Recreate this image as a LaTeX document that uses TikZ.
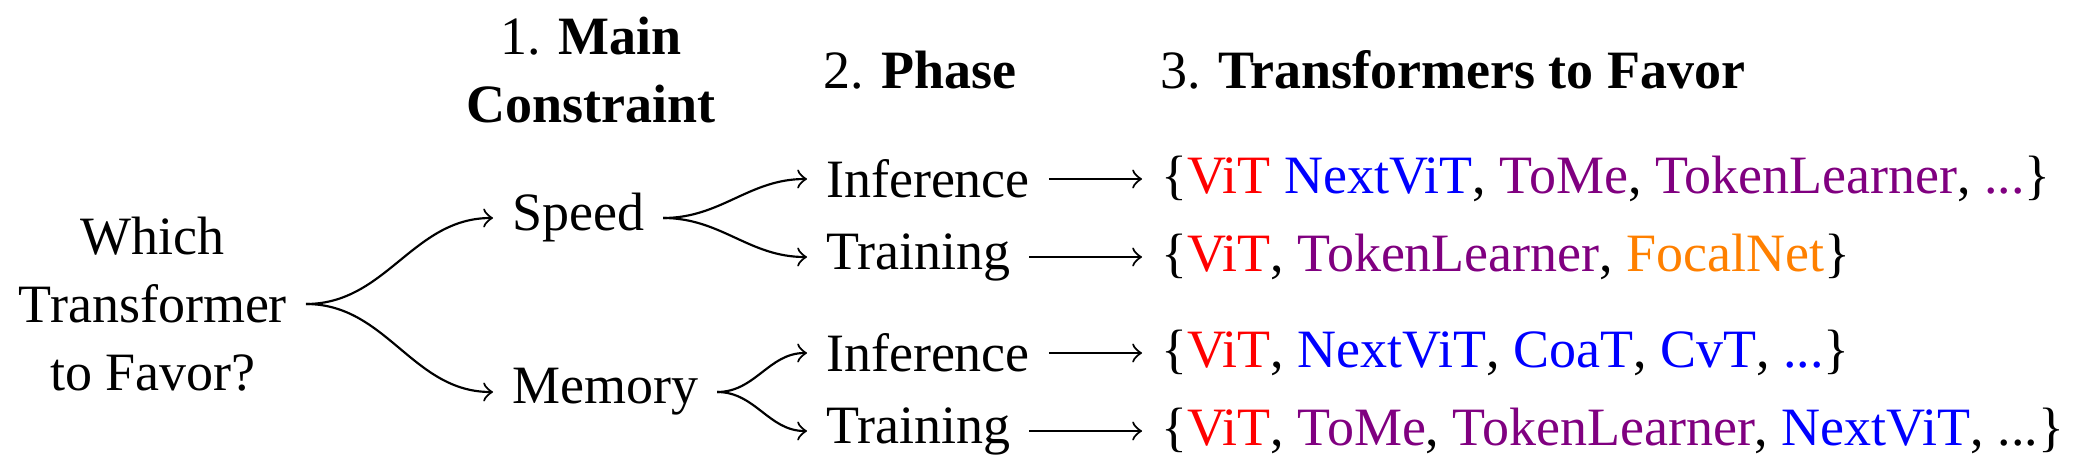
\documentclass[tikz,border=0pt]{standalone}
\usepackage{fontspec}
\setmainfont{Liberation Serif}
\definecolor{cred}{RGB}{255,0,0}
\definecolor{cblue}{RGB}{0,0,255}
\definecolor{cpurple}{RGB}{128,0,128}
\definecolor{corange}{RGB}{255,128,0}
\newcommand{\colR}[1]{\textcolor{cred}{#1}}
\newcommand{\colB}[1]{\textcolor{cblue}{#1}}
\newcommand{\colP}[1]{\textcolor{cpurple}{#1}}
\newcommand{\colO}[1]{\textcolor{corange}{#1}}
\tikzset{
  txt/.style={font=\fontsize{10}{12.6}\selectfont, inner sep=3.33pt},
  branch/.style={->, line width=0.4pt},
  lead/.style={->, line width=0.4pt}
}
\begin{document}
\begin{tikzpicture}[x=0.18519pt, y=-0.18519pt]
\useasboundingbox (0,0) rectangle (2088,473);
% headers
\node[txt, align=center] (h1) at (591,70) {1. \textbf{Main}\\\textbf{Constraint}};
\node[txt, anchor=base west] (h2) at (804,88) {2. \textbf{Phase}};
\node[txt, anchor=base west] (h3) at (1141,88) {3. \textbf{Transformers to Favor}};
% tree
\node[txt, align=center, anchor=east] (root) at (306,304) {Which\\Transformer\\to Favor?};
\node[txt, anchor=west] (speed) at (493,218) {Speed};
\node[txt, anchor=west] (memory) at (493,392) {Memory};
\node[txt, anchor=west] (inf1) at (807,179) {Inference};
\node[txt, anchor=west] (tr1) at (807,257) {Training};
\node[txt, anchor=west] (inf2) at (807,353) {Inference};
\node[txt, anchor=west] (tr2) at (807,431) {Training};
% sets
\node[txt, anchor=west] (set1) at (1142,179) {\{\colR{ViT} \colB{NextViT}, \colP{ToMe}, \colP{TokenLearner}, \colP{...}\}};
\node[txt, anchor=west] (set2) at (1142,257) {\{\colR{ViT}, \colP{TokenLearner}, \colO{FocalNet}\}};
\node[txt, anchor=west] (set3) at (1142,353) {\{\colR{ViT}, \colB{NextViT}, \colB{CoaT}, \colB{CvT}, \colB{...}\}};
\node[txt, anchor=west] (set4) at (1142,431) {\{\colR{ViT}, \colP{ToMe}, \colP{TokenLearner}, \colB{NextViT}, ...\}};
% connectors
\draw[branch] (root.east) to[out=0,in=180] (speed.west);
\draw[branch] (root.east) to[out=0,in=180] (memory.west);
\draw[branch] (speed.east) to[out=0,in=180] (inf1.west);
\draw[branch] (speed.east) to[out=0,in=180] (tr1.west);
\draw[branch] (memory.east) to[out=0,in=180] (inf2.west);
\draw[branch] (memory.east) to[out=0,in=180] (tr2.west);
\draw[lead] (inf1.east) -- (set1.west |- inf1.east);
\draw[lead] (tr1.east) -- (set2.west |- tr1.east);
\draw[lead] (inf2.east) -- (set3.west |- inf2.east);
\draw[lead] (tr2.east) -- (set4.west |- tr2.east);
\end{tikzpicture}
\end{document}
